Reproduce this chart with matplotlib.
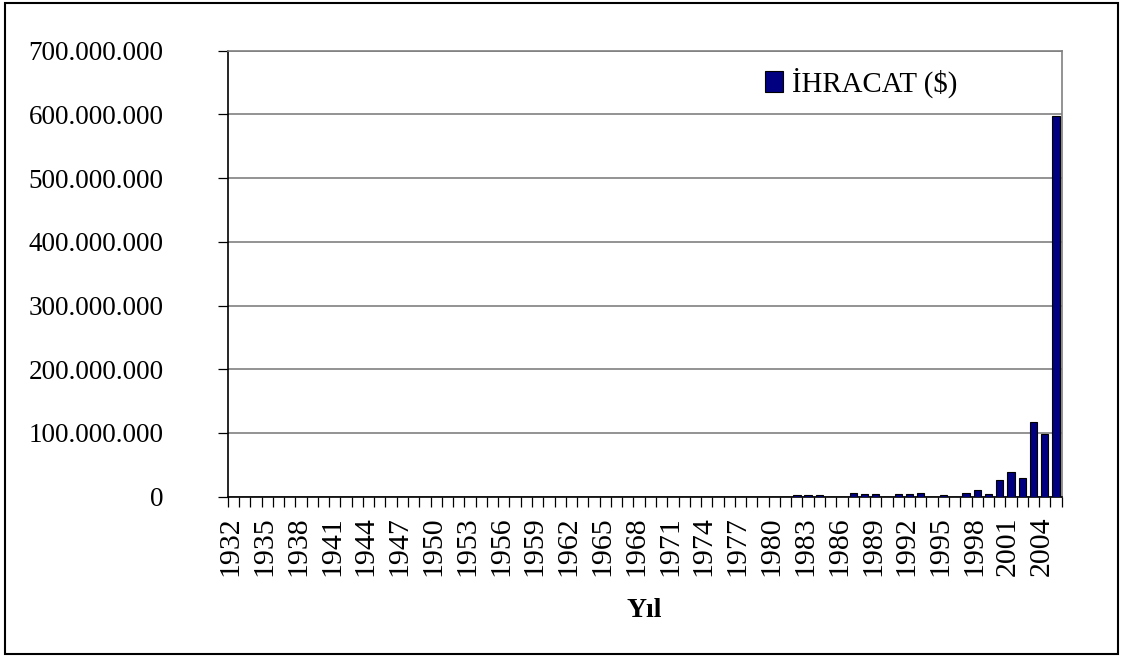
import matplotlib
matplotlib.use("Agg")
import matplotlib.pyplot as plt
from matplotlib.patches import Rectangle, Patch
from matplotlib.ticker import FuncFormatter, FixedLocator

years = list(range(1932, 2006))
export_values = {
    1982: 3.0e6, 1983: 2.5e6, 1984: 3.0e6,
    1987: 6.5e6, 1988: 3.5e6, 1989: 3.5e6,
    1991: 3.5e6, 1992: 3.5e6, 1993: 6.5e6,
    1995: 3.0e6, 1997: 6.5e6, 1998: 10.0e6, 1999: 3.5e6,
    2000: 26.0e6, 2001: 38.0e6, 2002: 29.0e6,
    2003: 117.0e6, 2004: 98.0e6, 2005: 597.0e6,
}
values = [export_values.get(y, 0.0) for y in years]
label_years = list(range(1932, 2005, 3))
series_name = "İHRACAT ($)"
x_title = "Yıl"
y_ticks = [0, 100e6, 200e6, 300e6, 400e6, 500e6, 600e6, 700e6]

plt.rcParams['font.family'] = ['Liberation Serif', 'DejaVu Serif']

W, H = 1121, 657
fig = plt.figure(figsize=(W / 100, H / 100), dpi=100)
fig.patch.set_facecolor('white')

left, right, top, bottom = 227.7, 1061.7, 50.7, 496.7
ax = fig.add_axes([left / W, 1 - bottom / H, (right - left) / W, (bottom - top) / H])

xs = list(range(len(years)))
ax.bar(xs, values, width=0.65, color='#000080', edgecolor='black', linewidth=0.8, zorder=3)

ax.set_xlim(-0.5, len(years) - 0.5)
ax.set_ylim(0, 700e6)

ax.set_yticks(y_ticks)
ax.yaxis.set_major_formatter(FuncFormatter(lambda v, p: f"{int(round(v)):,}".replace(",", ".")))
ax.tick_params(axis='y', direction='out', length=7.2, width=0.9, labelsize=19.5, pad=39, colors='black')
ax.grid(axis='y', color='#808080', linewidth=1.2, zorder=0)

# category boundaries as major ticks, labels at category centers as minor ticks
ax.xaxis.set_major_locator(FixedLocator([i - 0.5 for i in range(len(years) + 1)]))
ax.xaxis.set_major_formatter(FuncFormatter(lambda v, p: ""))
label_pos = [years.index(y) - 0.25 for y in label_years]
ax.set_xticks(label_pos, [str(y) for y in label_years], minor=True)
ax.tick_params(axis='x', which='major', direction='out', length=7.2, width=0.9, color='black')
ax.tick_params(axis='x', which='minor', length=0, labelsize=21.5, rotation=90, pad=14)

for s in ['left', 'bottom']:
    ax.spines[s].set_color('black')
    ax.spines[s].set_linewidth(1.2)
for s in ['right', 'top']:
    ax.spines[s].set_color('#808080')
    ax.spines[s].set_linewidth(1.2)

ax.set_xlabel(x_title, fontsize=20, fontweight='bold', labelpad=16)

handle = Patch(facecolor='#000080', edgecolor='black', linewidth=0.8)
fig.legend([handle], [series_name], loc='center left',
           bbox_to_anchor=(765 / W, 1 - 83 / H), frameon=False,
           fontsize=20.8, handlelength=0.62, handleheight=0.75, handletextpad=0.33,
           borderpad=0, borderaxespad=0)

fig.add_artist(Rectangle((5 / W, 3 / H), (1118 - 5) / W, (654 - 3) / H,
                         transform=fig.transFigure, fill=False,
                         edgecolor='black', linewidth=1.5))

fig.savefig('out.png', dpi=100)
